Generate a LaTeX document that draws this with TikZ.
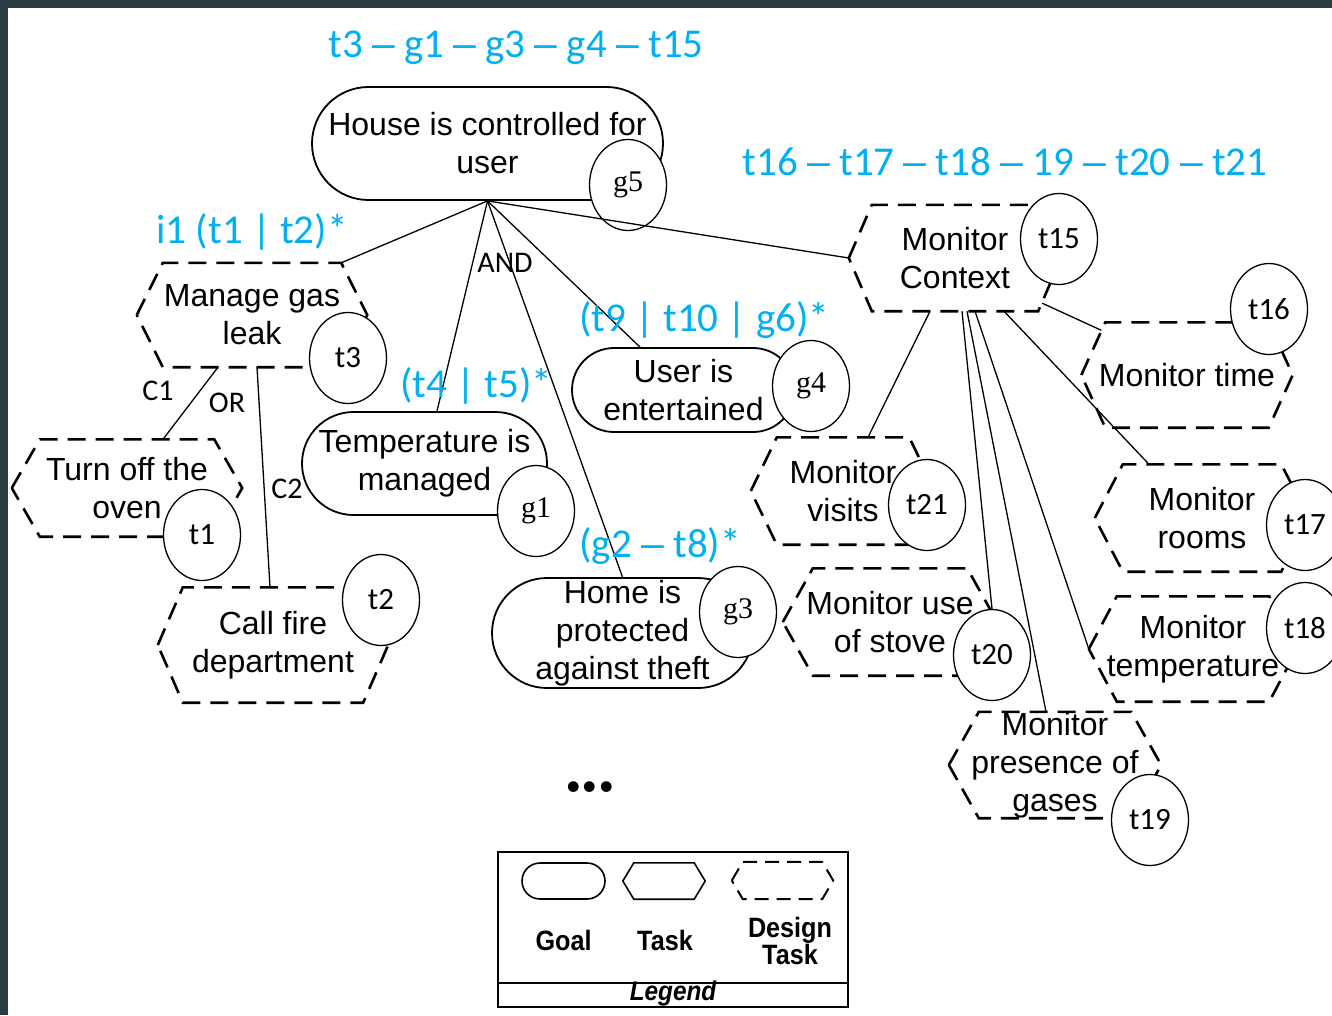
\documentclass[tikz,border=0pt]{standalone}
\usepackage{fontspec}
\setmainfont{Liberation Sans}
\newfontfamily\calib{Carlito}
\newfontfamily\tagserif{Liberation Serif}
\newfontfamily\legfont[FakeStretch=0.9]{Liberation Sans}
\usetikzlibrary{shapes.geometric,shapes.misc}

\definecolor{frameedge}{HTML}{2C3A41}
\definecolor{annotblue}{HTML}{00B0F0}

\newcommand\nodesize{\fontsize{32}{38}\selectfont}
% wide dash used in the sequence annotations
\newcommand\seqdash{{\rmfamily –}}
% hexagonal outline around a rectangular node: style, node name, corner inset
\newcommand\hexframe[3]{%
  \draw[#1] (#2.west) -- ([xshift=#3]#2.north west) -- ([xshift=-#3]#2.north east)
    -- (#2.east) -- ([xshift=-#3]#2.south east) -- ([xshift=#3]#2.south west) -- cycle;}

\begin{document}
\begin{tikzpicture}[x=1pt,y=-1pt,
  goal/.style={rounded rectangle, draw, line width=1.8pt, inner sep=0pt, align=center, font=\nodesize},
  dtask/.style={rectangle, inner sep=0pt, align=center, font=\nodesize},
  dashframe/.style={line width=2.6pt, dash pattern=on 18pt off 10pt},
  smalldash/.style={line width=2pt, dash pattern=on 14pt off 8pt},
  tag/.style={ellipse, draw, fill=white, line width=1.3pt, minimum width=77pt, minimum height=91pt, inner sep=0pt, font=\calib\fontsize{31}{31}\selectfont},
  gtag/.style={tag, font=\tagserif\fontsize{30}{30}\selectfont},
  link/.style={line width=1.3pt},
  annotlabel/.style={text=annotblue, font=\calib\fontsize{41}{41}\selectfont, anchor=base, inner sep=0pt},
  oplabel/.style={font=\calib\fontsize{30}{30}\selectfont, inner sep=0pt},
  legtext/.style={font=\legfont\bfseries\fontsize{28}{27}\selectfont, inner sep=0pt, align=center},
]
\useasboundingbox (0,0) rectangle (1332,1015);
\fill[frameedge] (0,0) rectangle (1332,1015);
\fill[white] (8,8) rectangle (1332,1015);

% goals
\node[goal, minimum width=351pt, minimum height=113pt] (house) at (487.5,143.5) {House is controlled for\\user};
\node[goal, minimum width=245pt, minimum height=103pt] (temp) at (424.5,463.5) {Temperature is\\managed};
\node[goal, minimum width=223pt, minimum height=84pt] (user) at (683.5,390) {User is\\entertained};
\node[goal, minimum width=261pt, minimum height=110pt] (home) at (622.5,633) {Home is\\protected\\against theft};

% design tasks
\node[dtask, minimum width=230pt, minimum height=104pt] (mg) at (252,315) {Manage gas\\leak};
\node[dtask, minimum width=230pt, minimum height=97pt] (oven) at (127,488) {Turn off the\\oven};
\node[dtask, minimum width=230pt, minimum height=115pt] (fire) at (273,645) {Call fire\\department};
\node[dtask, minimum width=212pt, minimum height=106pt] (mc) at (955,258) {Monitor\\Context};
\node[dtask, minimum width=211pt, minimum height=105pt] (mt) at (1187,375) {Monitor time};
\node[dtask, minimum width=184pt, minimum height=107pt] (mv) at (843,491) {Monitor\\visits};
\node[dtask, minimum width=214pt, minimum height=107pt] (ms) at (890,622) {Monitor use\\of stove};
\node[dtask, minimum width=214pt, minimum height=107pt] (mr) at (1202,518) {Monitor\\rooms};
\node[dtask, minimum width=208pt, minimum height=105pt] (mtemp) at (1193,649) {Monitor\\temperature};
\node[dtask, minimum width=212pt, minimum height=106pt] (mp) at (1055,765) {Monitor\\presence of\\gases};

\hexframe{dashframe}{mg}{26pt}
\hexframe{dashframe}{oven}{28pt}
\hexframe{dashframe}{fire}{25pt}
\hexframe{dashframe}{mc}{23pt}
\hexframe{dashframe}{mt}{24pt}
\hexframe{dashframe}{mv}{26pt}
\hexframe{dashframe}{ms}{30pt}
\hexframe{dashframe}{mr}{28pt}
\hexframe{dashframe}{mtemp}{28pt}
\hexframe{dashframe}{mp}{30pt}

% identifiers
\node[gtag] (g5) at (628,185) {g5};
\node[gtag] (g1) at (536,511) {g1};
\node[gtag] (g4) at (811,386) {g4};
\node[gtag] (g3) at (738,612) {g3};
\node[tag] (t3) at (348,358) {t3};
\node[tag] (t1) at (202,535) {t1};
\node[tag] (t2) at (381,600) {t2};
\node[tag] (t15) at (1059,239) {t15};
\node[tag] (t16) at (1269,309) {t16};
\node[tag] (t21) at (927,505) {t21};
\node[tag] (t17) at (1305,525) {t17};
\node[tag] (t20) at (992,655) {t20};
\node[tag] (t18) at (1305,628) {t18};
\node[tag] (t19) at (1150,820) {t19};

% decomposition links
\draw[link] (house.south) -- ([xshift=-26pt]mg.north east);
\draw[link] (house.south) -- ([xshift=12.5pt]temp.north);
\draw[link] (house.south) -- (home.north);
\draw[link] (house.south) -- ([xshift=-43.5pt]user.north);
\draw[link] (house.south) -- (mc.west);
\draw[link] ([xshift=-34pt]mg.south) -- ([xshift=36pt]oven.north);
\draw[link] ([xshift=5pt]mg.south) -- ([xshift=-3pt]fire.north);
\draw[link] ([xshift=-19pt,yshift=8pt]mc.south east) -- ([xshift=20pt,yshift=-8pt]mt.north west);
\draw[link] ([xshift=-25pt]mc.south) -- ([xshift=25pt]mv.north);
\draw[link] ([xshift=7pt]mc.south) -- (t20.north);
\draw[link] ([xshift=12pt]mc.south) -- ([xshift=-9pt]mp.north);
\draw[link] ([xshift=20pt]mc.south) -- (mtemp.west);
\draw[link] ([xshift=49pt]mc.south) -- ([xshift=-53pt]mr.north);

% operators and conditions
\node[oplabel] (and) at (505,263) {AND};
\node[oplabel] (or) at (227,403) {OR};
\node[oplabel] (c1) at (158,391) {C1};
\node[oplabel] (c2) at (287,489) {C2};

% blue annotations
\node[annotlabel] (seq1) at (516,57) {t3 \seqdash{} g1 \seqdash{} g3 \seqdash{} g4 \seqdash{} t15};
\node[annotlabel] (seq2) at (1005,175) {t16 \seqdash{} t17 \seqdash{} t18 \seqdash{} 19 \seqdash{} t20 \seqdash{} t21};
\node[annotlabel] (alt1) at (252,243) {i1 (t1 | t2)*};
\node[annotlabel] (alt2) at (476,397) {(t4 | t5)*};
\node[annotlabel] (alt3) at (704,331) {(t9 | t10 | g6)*};
\node[annotlabel] (alt4) at (660,557) {(g2 \seqdash{} t8)*};

\node[anchor=base, inner sep=0pt, font=\tagserif\bfseries\fontsize{66}{66}\selectfont] (more) at (590,791) {...};

% legend
\node[draw, line width=1.5pt, minimum width=350pt, minimum height=155pt, inner sep=0pt] (legbox) at (673,929.5) {};
\draw[line width=1.5pt] ([yshift=25pt]legbox.south west) -- ([yshift=25pt]legbox.south east);
\node[rounded rectangle, draw, line width=1.6pt, minimum width=83pt, minimum height=36pt, inner sep=0pt] (leggoal) at (563.5,881) {};
\node[minimum width=82pt, minimum height=36pt, inner sep=0pt] (legtask) at (664,881) {};
\hexframe{line width=1.6pt}{legtask}{11pt}
\node[minimum width=101pt, minimum height=37pt, inner sep=0pt] (legdt) at (782.5,880.5) {};
\hexframe{smalldash}{legdt}{11pt}
\node[legtext] (lgoal) at (563.5,940) {Goal};
\node[legtext] (ltask) at (665,940) {Task};
\node[legtext] (ldt) at (790,941) {Design\\Task};
\node[legtext, font=\legfont\bfseries\itshape\fontsize{27}{27}\selectfont] (lname) at (673,994) {Legend};
\end{tikzpicture}
\end{document}
